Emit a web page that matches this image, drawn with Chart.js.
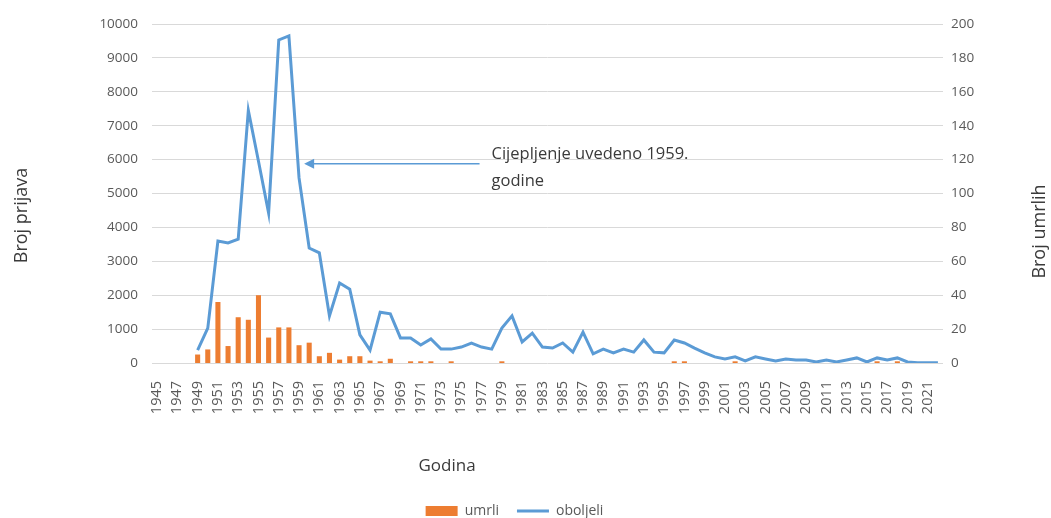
<!DOCTYPE html>
<html lang="hr">
<head>
<meta charset="utf-8">
<title>Oboljeli i umrli</title>
<script src="https://cdn.jsdelivr.net/npm/chart.js@4.4.1/dist/chart.umd.min.js"></script>
<style>
    html, body { margin: 0; padding: 0; background: #ffffff; }
    #wrapper { position: relative; width: 1051px; height: 518px; }
</style>
</head>
<body>
<div id="wrapper"><canvas id="casesChart"></canvas></div>
<script>
// Godine (kategorije)
const years = [
    '1945', '1946', '1947', '1948', '1949', '1950', '1951', '1952', '1953', '1954',
    '1955', '1956', '1957', '1958', '1959', '1960', '1961', '1962', '1963', '1964',
    '1965', '1966', '1967', '1968', '1969', '1970', '1971', '1972', '1973', '1974',
    '1975', '1976', '1977', '1978', '1979', '1980', '1981', '1982', '1983', '1984',
    '1985', '1986', '1987', '1988', '1989', '1990', '1991', '1992', '1993', '1994',
    '1995', '1996', '1997', '1998', '1999', '2000', '2001', '2002', '2003', '2004',
    '2005', '2006', '2007', '2008', '2009', '2010', '2011', '2012', '2013', '2014',
    '2015', '2016', '2017', '2018', '2019', '2020', '2021', '2022'
];

// Broj prijava (lijeva os)
const oboljeli = [
    null, null, null, null, 380, 1030, 3600, 3540, 3650, 7450,
    5950, 4420, 9530, 9650, 5460, 3390, 3250, 1390, 2360, 2180,
    830, 380, 1500, 1450, 740, 740, 530, 710, 410, 410,
    470, 590, 470, 410, 1030, 1390, 620, 880, 470, 440,
    590, 320, 910, 270, 410, 300, 410, 320, 680, 320,
    300, 680, 590, 440, 300, 180, 120, 180, 60, 180,
    120, 60, 120, 90, 90, 30, 90, 30, 90, 150,
    30, 150, 90, 150, 30, 10, 10, 10
];

// Broj umrlih (desna os)
const umrli = [
    null, null, null, null, 5, 8, 36, 10, 27, 25.5,
    40, 15, 21, 21, 10.5, 12, 4, 6, 2, 4,
    4, 1.4, 1, 2.5, 0, 1, 1, 1, 0, 1,
    0, 0, 0, 0, 1, 0, 0, 0, 0, 0,
    0, 0, 0, 0, 0, 0, 0, 0, 0, 0,
    0, 1, 1, 0, 0, 0, 0, 1, 0, 0,
    0, 0, 0, 0, 0, 0, 0, 0, 0, 0,
    0, 1, 0, 1, 0, 0, 0, 0
];

const casesTicks = [0, 1000, 2000, 3000, 4000, 5000, 6000, 7000, 8000, 9000, 10000];
const deathsTicks = [0, 20, 40, 60, 80, 100, 120, 140, 160, 180, 200];

const noteLines = ['Cijepljenje uvedeno 1959.', 'godine'];

const ORANGE = '#ED7D31';
const BLUE = '#5B9BD5';
const TEXT = '#595959';
const TITLE = '#3a3a3a';

Chart.defaults.font.family = "'Open Sans', 'Noto Sans', sans-serif";
Chart.defaults.color = TEXT;

// Naslovi osi i strelica s napomenom
const annotationPlugin = {
    id: 'annotations',
    afterDraw(chart) {
        const { ctx, chartArea: area, scales } = chart;
        const x = scales.x;
        const yCases = scales.yCases;

        ctx.save();

        // Strelica prema 1959.
        const tipX = x.getPixelForValue(14.5);
        const tailX = x.getPixelForValue(31.8);
        const arrowY = yCases.getPixelForValue(5880);
        ctx.strokeStyle = BLUE;
        ctx.fillStyle = BLUE;
        ctx.lineWidth = 1.5;
        ctx.beginPath();
        ctx.moveTo(tailX, arrowY);
        ctx.lineTo(tipX + 6, arrowY);
        ctx.stroke();
        ctx.beginPath();
        ctx.moveTo(tipX, arrowY);
        ctx.lineTo(tipX + 10, arrowY - 5);
        ctx.lineTo(tipX + 10, arrowY + 5);
        ctx.closePath();
        ctx.fill();

        ctx.fillStyle = TITLE;
        ctx.font = "16.5px 'Open Sans', sans-serif";
        ctx.textAlign = 'left';
        ctx.textBaseline = 'middle';
        ctx.fillText(noteLines[0], tailX + 12, arrowY - 9);
        ctx.fillText(noteLines[1], tailX + 12, arrowY + 18);

        // Naslovi osi
        ctx.font = "17px 'Open Sans', sans-serif";
        ctx.textAlign = 'center';
        ctx.fillText('Godina', area.left + 295, area.bottom + 103);

        ctx.font = "18px 'Open Sans', sans-serif";
        ctx.save();
        ctx.translate(area.left - 130, (area.top + area.bottom) / 2 + 22);
        ctx.rotate(-Math.PI / 2);
        ctx.fillText('Broj prijava', 0, 0);
        ctx.restore();

        ctx.save();
        ctx.translate(area.right + 97, (area.top + area.bottom) / 2 + 38);
        ctx.rotate(-Math.PI / 2);
        ctx.fillText('Broj umrlih', 0, 0);
        ctx.restore();

        ctx.restore();
    }
};

function buildChart() {
    const ctx = document.getElementById('casesChart').getContext('2d');
    return new Chart(ctx, {
        type: 'bar',
        data: {
            labels: years,
            datasets: [{
                type: 'bar',
                label: 'umrli',
                data: umrli,
                backgroundColor: ORANGE,
                borderWidth: 0,
                barPercentage: 0.5,
                categoryPercentage: 1,
                yAxisID: 'yDeaths',
                order: 1
            }, {
                type: 'line',
                label: 'oboljeli',
                data: oboljeli,
                borderColor: BLUE,
                backgroundColor: BLUE,
                borderWidth: 3,
                tension: 0,
                pointRadius: 0,
                yAxisID: 'yCases',
                order: 0
            }]
        },
        options: {
            responsive: true,
            maintainAspectRatio: false,
            animation: false,
            layout: { padding: { left: 0, right: 22, top: 24, bottom: -10 } },
            plugins: {
                tooltip: { enabled: false },
                legend: {
                    position: 'bottom',
                    labels: {
                        color: TEXT,
                        font: { size: 14 },
                        usePointStyle: true,
                        pointStyleWidth: 32,
                        boxHeight: 10,
                        padding: 18,
                        sort: (a, b) => a.datasetIndex - b.datasetIndex,
                        generateLabels(chart) {
                            const items = Chart.defaults.plugins.legend.labels.generateLabels(chart);
                            items.forEach(item => {
                                item.pointStyle = item.datasetIndex === 0 ? 'rect' : 'line';
                            });
                            return items;
                        }
                    }
                }
            },
            scales: {
                x: {
                    grid: { display: false },
                    border: { display: false },
                    ticks: {
                        autoSkip: false,
                        minRotation: 90,
                        maxRotation: 90,
                        padding: 10,
                        font: { size: 14.5 },
                        color: TEXT,
                        callback: (value, index) => (index % 2 === 0 ? years[index] : '')
                    },
                    afterFit: scale => { scale.height = 123; }
                },
                yCases: {
                    position: 'left',
                    min: casesTicks[0],
                    max: casesTicks[casesTicks.length - 1],
                    grid: { color: '#D9D9D9', lineWidth: 1, drawTicks: false },
                    border: { display: false },
                    ticks: {
                        stepSize: casesTicks[1] - casesTicks[0],
                        padding: 14,
                        font: { size: 13.5 },
                        color: TEXT,
                        callback: value => String(value)
                    },
                    afterFit: scale => { scale.width = 152; }
                },
                yDeaths: {
                    position: 'right',
                    min: deathsTicks[0],
                    max: deathsTicks[deathsTicks.length - 1],
                    grid: { display: false, drawTicks: false },
                    border: { display: false },
                    ticks: {
                        stepSize: deathsTicks[1] - deathsTicks[0],
                        padding: 8,
                        font: { size: 13.5 },
                        color: TEXT,
                        callback: value => String(value)
                    },
                    afterFit: scale => { scale.width = 86; }
                }
            }
        },
        plugins: [annotationPlugin]
    });
}

document.addEventListener('DOMContentLoaded', () => {
    window.casesChart = buildChart();
});
</script>
</body>
</html>
